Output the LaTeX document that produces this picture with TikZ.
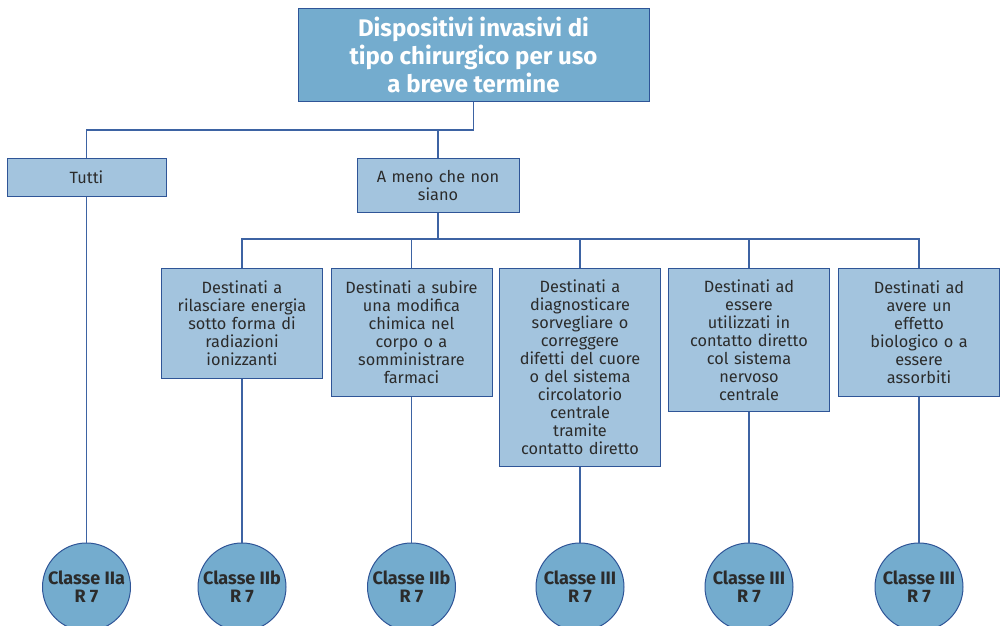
\documentclass[tikz,border=0pt]{standalone}
\usepackage{fontspec}
\setmainfont{Fira Sans}
\definecolor{bordc}{HTML}{2F5597}
\definecolor{linec}{HTML}{3D63A3}
\definecolor{lightc}{HTML}{A3C4DE}
\definecolor{darkc}{HTML}{74ACCE}
\definecolor{txtc}{HTML}{2B2B2B}
\begin{document}
\begin{tikzpicture}[x=1pt,y=-1pt,
  box/.style={draw=bordc, fill=lightc, line width=1pt, text=txtc,
    font=\fontsize{16.3}{18}\selectfont, align=center, text width=158pt,
    inner sep=0pt, minimum width=161pt, anchor=north},
  titlebox/.style={draw=bordc, fill=darkc, line width=1pt, text=white,
    font=\fontsize{24}{28}\selectfont\bfseries, align=center, inner sep=0pt,
    minimum width=351pt, minimum height=93pt},
  classc/.style={circle, draw=bordc, fill=darkc, line width=1pt, text=txtc,
    font=\fontsize{18}{18}\selectfont\bfseries, align=center, inner sep=0pt,
    minimum size=88pt},
  conn/.style={draw=linec, line width=1.3pt}]
\useasboundingbox (0,0) rectangle (1002,625);

\node[titlebox] (T) at (473.5,54.5) {Dispositivi invasivi di\\tipo chirurgico per uso\\a breve termine};

\node[box, minimum height=38pt, minimum width=159pt] (tutti) at (86.5,158) {Tutti};
\node[box, minimum height=54pt, minimum width=162pt] (meno) at (438,158) {A meno che non\\siano};

\node[box, minimum height=110pt] (b1) at (242,268) {Destinati a\\rilasciare energia\\sotto forma di\\radiazioni\\ionizzanti};
\node[box, minimum height=128pt] (b2) at (411.5,268) {Destinati a subire\\una modifica\\chimica nel\\corpo o a\\somministrare\\farmaci};
\node[box, minimum height=198pt] (b3) at (580,268) {Destinati a\\diagnosticare\\sorvegliare o\\correggere\\difetti del cuore\\o del sistema\\circolatorio\\centrale\\tramite\\contatto diretto};
\node[box, minimum height=143pt] (b4) at (749,268) {Destinati ad\\essere\\utilizzati in\\contatto diretto\\col sistema\\nervoso\\centrale};
\node[box, minimum height=128pt] (b5) at (919,268) {Destinati ad\\avere un\\effetto\\biologico o a\\essere\\assorbiti};

\node[classc] (c0) at (86.5,587) {Classe IIa\\R 7};
\node[classc] (c1) at (242,587) {Classe IIb\\R 7};
\node[classc] (c2) at (411.5,587) {Classe IIb\\R 7};
\node[classc] (c3) at (580,587) {Classe III\\R 7};
\node[classc] (c4) at (749,587) {Classe III\\R 7};
\node[classc] (c5) at (919,587) {Classe III\\R 7};

\coordinate (j1) at (473.5,130);
\coordinate (j2) at (438,239);
\draw[conn] (T.south) -- (j1) -| (tutti.north);
\draw[conn] (j1 -| meno.north) -- (meno.north);
\draw[conn] (meno.south) -- (j2);
\draw[conn] (b1.north) -- (b1.north |- j2) -- (b5.north |- j2) -- (b5.north);
\draw[conn] (b2.north |- j2) -- (b2.north);
\draw[conn] (b3.north |- j2) -- (b3.north);
\draw[conn] (b4.north |- j2) -- (b4.north);

\draw[conn] (tutti.south) -- (c0.north);
\draw[conn] (b1.south) -- (c1.north);
\draw[conn] (b2.south) -- (c2.north);
\draw[conn] (b3.south) -- (c3.north);
\draw[conn] (b4.south) -- (c4.north);
\draw[conn] (b5.south) -- (c5.north);
\end{tikzpicture}
\end{document}
